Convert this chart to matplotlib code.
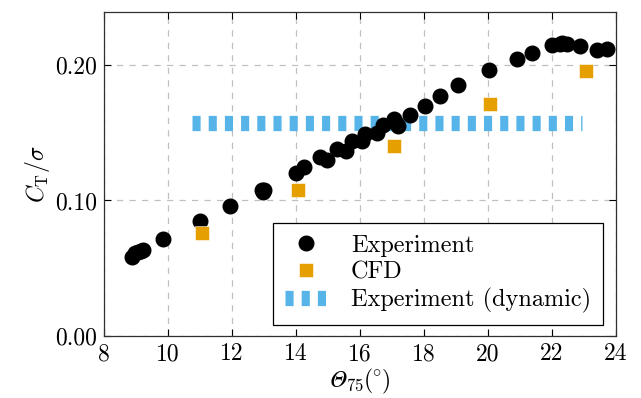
import matplotlib
matplotlib.use('Agg')
import matplotlib.pyplot as plt

plt.rcParams['font.family'] = 'cmr10'
plt.rcParams['mathtext.fontset'] = 'cm'
# used only by the x label (math_fontfamily='custom') to get an italic Theta
plt.rcParams['mathtext.rm'] = 'STIXGeneral:italic'
plt.rcParams['mathtext.sf'] = 'cmr10'

# experiment (static sweep)
exp_theta = [8.88, 8.97, 9.05, 9.15, 9.23, 9.85, 11.0, 11.94, 12.93, 12.98, 13.0,
             14.0, 14.25, 14.75, 14.97, 15.29, 15.55, 15.76, 16.07, 16.16, 16.54,
             16.71, 17.07, 17.12, 17.2, 17.56, 18.03, 18.5, 19.07, 20.03, 20.9,
             21.37, 21.99, 22.25, 22.3, 22.46, 22.88, 23.4, 23.73]
exp_ct = [0.0585, 0.061, 0.062, 0.063, 0.0635, 0.0716, 0.0849, 0.0956, 0.1077, 0.1065, 0.108,
          0.120, 0.1245, 0.1317, 0.1302, 0.138, 0.1368, 0.1435, 0.1439, 0.149, 0.1495,
          0.1557, 0.160, 0.157, 0.155, 0.163, 0.170, 0.1767, 0.185, 0.196, 0.2044,
          0.209, 0.2148, 0.2155, 0.216, 0.2153, 0.214, 0.211, 0.2116]

# CFD
cfd_theta = [11.07, 14.07, 17.07, 20.06, 23.06]
cfd_ct = [0.0763, 0.1077, 0.140, 0.171, 0.1956]

# dynamic experiment (constant level)
dyn_theta = [10.75, 22.95]
dyn_ct = [0.157, 0.157]

x_ticks = list(range(8, 25, 2))
y_ticks = [0.0, 0.1, 0.2]
y_ticklabels = ['0.00', '0.10', '0.20']

fig = plt.figure(figsize=(6.41, 3.98), dpi=100)
ax = fig.add_axes([0.1622, 0.1558, 0.7988, 0.814])

ax.plot(dyn_theta, dyn_ct, color='#56B4E9', lw=11, dashes=(0.53, 0.53),
        solid_capstyle='butt', dash_capstyle='butt', label='Experiment (dynamic)', zorder=2)
ax.plot(exp_theta, exp_ct, 'o', color='black', ms=10.5, label='Experiment', zorder=3)
ax.plot(cfd_theta, cfd_ct, 's', color='#E69F00', ms=10, mec='white', mew=0.4,
        label='CFD', zorder=3)

ax.set_xlim(8, 24)
ax.set_ylim(0, 0.239)
ax.set_xticks(x_ticks)
ax.set_xticklabels([str(t) for t in x_ticks])
ax.set_yticks(y_ticks)
ax.set_yticklabels(y_ticklabels)
ax.grid(True, color='#c0c0c0', ls=(0, (5, 5)), lw=0.9)
ax.set_axisbelow(True)
ax.tick_params(direction='in', top=True, right=True, length=5, labelsize=17, pad=5)
for s in ax.spines.values():
    s.set_color('#303030')
    s.set_linewidth(0.9)

ax.set_xlabel('$\\mathrm{\u0398}_{\\mathsf{75}}\\mathsf{(}^{\\circ}\\mathsf{)}$',
              fontsize=17, math_fontfamily='custom', labelpad=1)
ax.set_ylabel(r'$C_{\mathrm{T}}/\sigma$', fontsize=17, labelpad=2)

h, l = ax.get_legend_handles_labels()
order = [1, 2, 0]
leg = ax.legend([h[i] for i in order], [l[i] for i in order], loc='lower right',
                bbox_to_anchor=(0.975, 0.034), fontsize=17.5, fancybox=False,
                edgecolor='black', framealpha=1, handlelength=1.7, handletextpad=1.0,
                borderpad=0.5, labelspacing=0.18, borderaxespad=0)
leg.get_frame().set_linewidth(0.9)

fig.savefig('out.png', dpi=100)
